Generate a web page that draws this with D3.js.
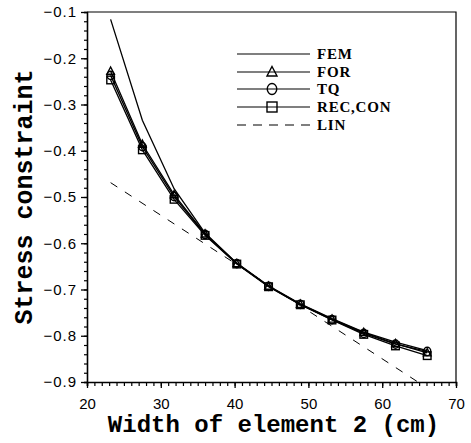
<!DOCTYPE html>
<html>
<head>
<meta charset="utf-8">
<script src="https://cdn.jsdelivr.net/npm/d3@7"></script>
<style>
  html, body { margin: 0; padding: 0; background: #fff; }
  svg { display: block; }
</style>
</head>
<body>
<svg id="chart" width="471" height="443"></svg>
<script>
// ---- data ----
const widths = [23.2, 27.5, 31.8, 36.0, 40.3, 44.6, 48.9, 53.2, 57.5, 61.8, 66.1];
const femValues = [-0.116, -0.334, -0.482, -0.578, -0.643, -0.692, -0.731, -0.763, -0.792, -0.814, -0.832];
const forValues = [-0.228, -0.386, -0.495, -0.580, -0.644, -0.693, -0.732, -0.764, -0.793, -0.817, -0.837];
const tqValues  = [-0.237, -0.391, -0.499, -0.581, -0.644, -0.693, -0.732, -0.765, -0.795, -0.818, -0.834];
const recValues = [-0.247, -0.398, -0.505, -0.583, -0.645, -0.694, -0.733, -0.766, -0.797, -0.822, -0.843];
const linWidths = [23.2, 66.1];
const linValues = [-0.469, -0.913];
const seriesNames = ["FEM", "FOR", "TQ", "REC,CON", "LIN"];
const xTicks = [20, 30, 40, 50, 60, 70];
const yTicks = [-0.9, -0.8, -0.7, -0.6, -0.5, -0.4, -0.3, -0.2, -0.1];

// ---- layout ----
const svg = d3.select("#chart");
const L = 87, R = 456, T = 12, B = 382;
const x = d3.scaleLinear().domain([20, 70]).range([L, R]);
const y = d3.scaleLinear().domain([-0.9, -0.1]).range([B, T]);

svg.append("defs").append("clipPath").attr("id", "clip")
  .append("rect").attr("x", L).attr("y", T).attr("width", R - L).attr("height", B - T);

// frame (top & right)
svg.append("path")
  .attr("d", `M${L},${T}H${R}V${B}`)
  .attr("fill", "none").attr("stroke", "#000").attr("stroke-width", 1.2);

// x axis
const xMinor = d3.range(20, 70.01, 1);
const gx = svg.append("g").attr("transform", `translate(0,${B})`);
gx.call(d3.axisBottom(x).tickValues(xMinor).tickSize(4).tickFormat(""));
gx.select(".domain").attr("stroke-width", 1.6);
gx.selectAll(".tick line").attr("stroke-width", 1.2);
const gx2 = svg.append("g").attr("transform", `translate(0,${B})`);
gx2.call(d3.axisBottom(x).tickValues(xTicks).tickSize(6).tickPadding(10));
gx2.select(".domain").remove();
gx2.selectAll(".tick line").attr("stroke-width", 1.3);
gx2.selectAll(".tick text")
  .attr("font-family", "'Liberation Sans', Arial, sans-serif")
  .attr("font-size", 15).attr("fill", "#000");

// y axis
const yMinor = d3.range(-0.9, -0.0999, 0.02);
const gy = svg.append("g").attr("transform", `translate(${L},0)`);
gy.call(d3.axisLeft(y).tickValues(yMinor).tickSize(3).tickFormat(""));
gy.select(".domain").attr("stroke-width", 1.6);
gy.selectAll(".tick line").attr("stroke-width", 1.2);
const gy2 = svg.append("g").attr("transform", `translate(${L},0)`);
gy2.call(d3.axisLeft(y).tickValues(yTicks).tickSize(6).tickPadding(4)
  .tickFormat(d => "\u2212" + d3.format(".1f")(-d)));
gy2.select(".domain").remove();
gy2.selectAll(".tick line").attr("stroke-width", 1.3);
gy2.selectAll(".tick text")
  .attr("font-family", "'Liberation Sans', Arial, sans-serif")
  .attr("font-size", 15).attr("letter-spacing", 1).attr("fill", "#000");

// axis titles
svg.append("text")
  .attr("x", (L + R) / 2 + 2).attr("y", 432)
  .attr("text-anchor", "middle")
  .attr("font-family", "'Liberation Mono', 'Courier New', monospace")
  .attr("font-weight", "bold").attr("font-size", 24)
  .text("Width of element 2 (cm)");
svg.append("text")
  .attr("transform", `translate(32,${197}) rotate(-90)`)
  .attr("text-anchor", "middle")
  .attr("font-family", "'Liberation Mono', 'Courier New', monospace")
  .attr("font-weight", "bold").attr("font-size", 25)
  .text("Stress constraint");

// series
const plot = svg.append("g").attr("clip-path", "url(#clip)");
const line = d3.line().x(d => x(d[0])).y(d => y(d[1]));
const zip = (xs, ys) => xs.map((v, i) => [v, ys[i]]);

const lineSeries = [
  { name: seriesNames[0], pts: zip(widths, femValues), marker: null },
  { name: seriesNames[1], pts: zip(widths, forValues), marker: "tri" },
  { name: seriesNames[2], pts: zip(widths, tqValues), marker: "circ" },
  { name: seriesNames[3], pts: zip(widths, recValues), marker: "sq" }
];

plot.append("path")
  .datum(zip(linWidths, linValues))
  .attr("d", line).attr("fill", "none").attr("stroke", "#000")
  .attr("stroke-width", 1).attr("stroke-dasharray", "8,9");

lineSeries.forEach(s => {
  plot.append("path").datum(s.pts).attr("d", line)
    .attr("fill", "none").attr("stroke", "#000").attr("stroke-width", 1.3);
});

function drawMarker(g, type, cx, cy, r) {
  if (type === "tri") {
    g.append("path")
      .attr("d", `M${cx},${cy - r * 1.1}L${cx + r},${cy + r * 0.8}L${cx - r},${cy + r * 0.8}Z`)
      .attr("fill", "none").attr("stroke", "#000").attr("stroke-width", 1.4);
  } else if (type === "circ") {
    g.append("ellipse").attr("cx", cx).attr("cy", cy).attr("rx", r * 0.95).attr("ry", r * 1.1)
      .attr("fill", "none").attr("stroke", "#000").attr("stroke-width", 1.4);
  } else if (type === "sq") {
    g.append("rect").attr("x", cx - r).attr("y", cy - r).attr("width", 2 * r).attr("height", 2 * r)
      .attr("fill", "none").attr("stroke", "#000").attr("stroke-width", 1.4);
  }
}

lineSeries.forEach(s => {
  if (!s.marker) return;
  s.pts.forEach(p => drawMarker(plot, s.marker, x(p[0]), y(p[1]), 3.8));
});

// legend
const lg = svg.append("g");
const lx0 = 237, lx1 = 310, mx = 272, tx = 317;
const rowsY = [54, 72, 89, 107, 125];
const legendMarkers = [null, "tri", "circ", "sq", "dash"];
seriesNames.forEach((name, i) => {
  const yy = rowsY[i];
  const ln = lg.append("line").attr("x1", lx0).attr("x2", lx1).attr("y1", yy).attr("y2", yy)
    .attr("stroke", "#000").attr("stroke-width", 1.1);
  if (legendMarkers[i] === "dash") ln.attr("stroke-dasharray", "9,7");
  else if (legendMarkers[i]) {
    drawMarker(lg, legendMarkers[i], mx, yy, 5);
  }
  lg.append("text").attr("x", tx).attr("y", yy).attr("dy", "0.35em")
    .attr("font-family", "'Liberation Serif', 'Times New Roman', serif")
    .attr("font-weight", "bold").attr("font-size", 15).attr("letter-spacing", 0.8)
    .text(name);
});
</script>
</body>
</html>
